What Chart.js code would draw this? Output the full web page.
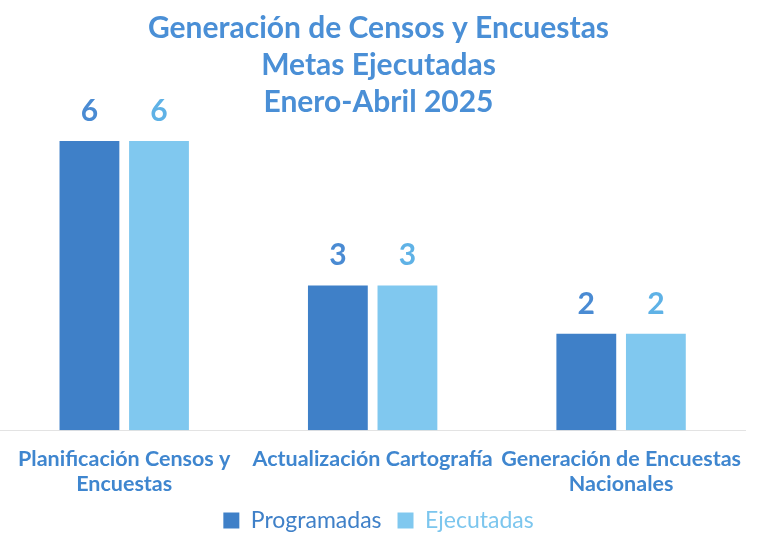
<!DOCTYPE html>
<html>
<head>
<meta charset="utf-8">
<script src="https://cdn.jsdelivr.net/npm/chart.js@4.4.1/dist/chart.umd.min.js"></script>
<style>
html,body{margin:0;padding:0;background:#fff;}
#wrap{width:757px;height:534px;position:relative;}
</style>
</head>
<body>
<div id="wrap"><canvas id="c" width="757" height="534"></canvas></div>
<script>
const titleLines = ['Generación de Censos y Encuestas', 'Metas Ejecutadas', 'Enero-Abril 2025'];
const categories = [['Planificación Censos y', 'Encuestas'], 'Actualización Cartografía', ['Generación de Encuestas', 'Nacionales']];
const seriesNames = ['Programadas', 'Ejecutadas'];
const programadas = [6, 3, 2];
const ejecutadas = [6, 3, 2];

const colors = ['#3f80c8', '#80c8ef'];
const labelColors = ['#4a8bd3', '#5fb2e6'];
const FONT = 'Lato, "Open Sans", sans-serif';

const valueLabels = {
  id: 'valueLabels',
  afterDatasetsDraw(chart) {
    const ctx = chart.ctx;
    ctx.save();
    ctx.font = 'bold 30px ' + FONT;
    ctx.textAlign = 'center';
    ctx.textBaseline = 'middle';
    chart.data.datasets.forEach((ds, i) => {
      const meta = chart.getDatasetMeta(i);
      meta.data.forEach((el, j) => {
        ctx.fillStyle = labelColors[i];
        ctx.fillText(String(ds.data[j]), el.x, el.y - 30);
      });
    });
    ctx.restore();
  }
};

new Chart(document.getElementById('c'), {
  type: 'bar',
  data: {
    labels: categories,
    datasets: [
      { label: seriesNames[0], data: programadas, backgroundColor: colors[0], categoryPercentage: 0.56, barPercentage: 0.86 },
      { label: seriesNames[1], data: ejecutadas, backgroundColor: colors[1], categoryPercentage: 0.56, barPercentage: 0.86 }
    ]
  },
  options: {
    responsive: false,
    animation: false,
    layout: { padding: { left: 0, right: 0, top: 0, bottom: -8 } },
    plugins: {
      title: {
        display: true,
        text: titleLines,
        color: '#4a8fd6',
        font: { family: FONT, size: 30, weight: 'bold', lineHeight: 1.233 },
        padding: { top: 10, bottom: 20 }
      },
      legend: {
        position: 'bottom',
        labels: {
          font: { family: FONT, size: 23 },
          boxWidth: 16,
          boxHeight: 16,
          padding: 16,
          generateLabels(chart) {
            return chart.data.datasets.map((ds, i) => ({
              text: ds.label,
              fillStyle: colors[i],
              strokeStyle: colors[i],
              lineWidth: 0,
              fontColor: i === 0 ? '#3f80c8' : '#7cc6ee',
              datasetIndex: i,
              hidden: false
            }));
          }
        }
      },
      tooltip: { enabled: false }
    },
    scales: {
      x: {
        grid: { display: false, drawTicks: false },
        border: { display: true, color: '#e3e3e3', width: 1 },
        ticks: {
          color: '#3f86cf',
          font: { family: FONT, size: 21.5, weight: 'bold', lineHeight: 1.18 },
          padding: 16,
          maxRotation: 0,
          autoSkip: false
        },
        afterFit(scale) { scale.height -= 20; }
      },
      y: {
        display: false,
        min: 0,
        max: 6
      }
    }
  },
  plugins: [valueLabels]
});
</script>
</body>
</html>
